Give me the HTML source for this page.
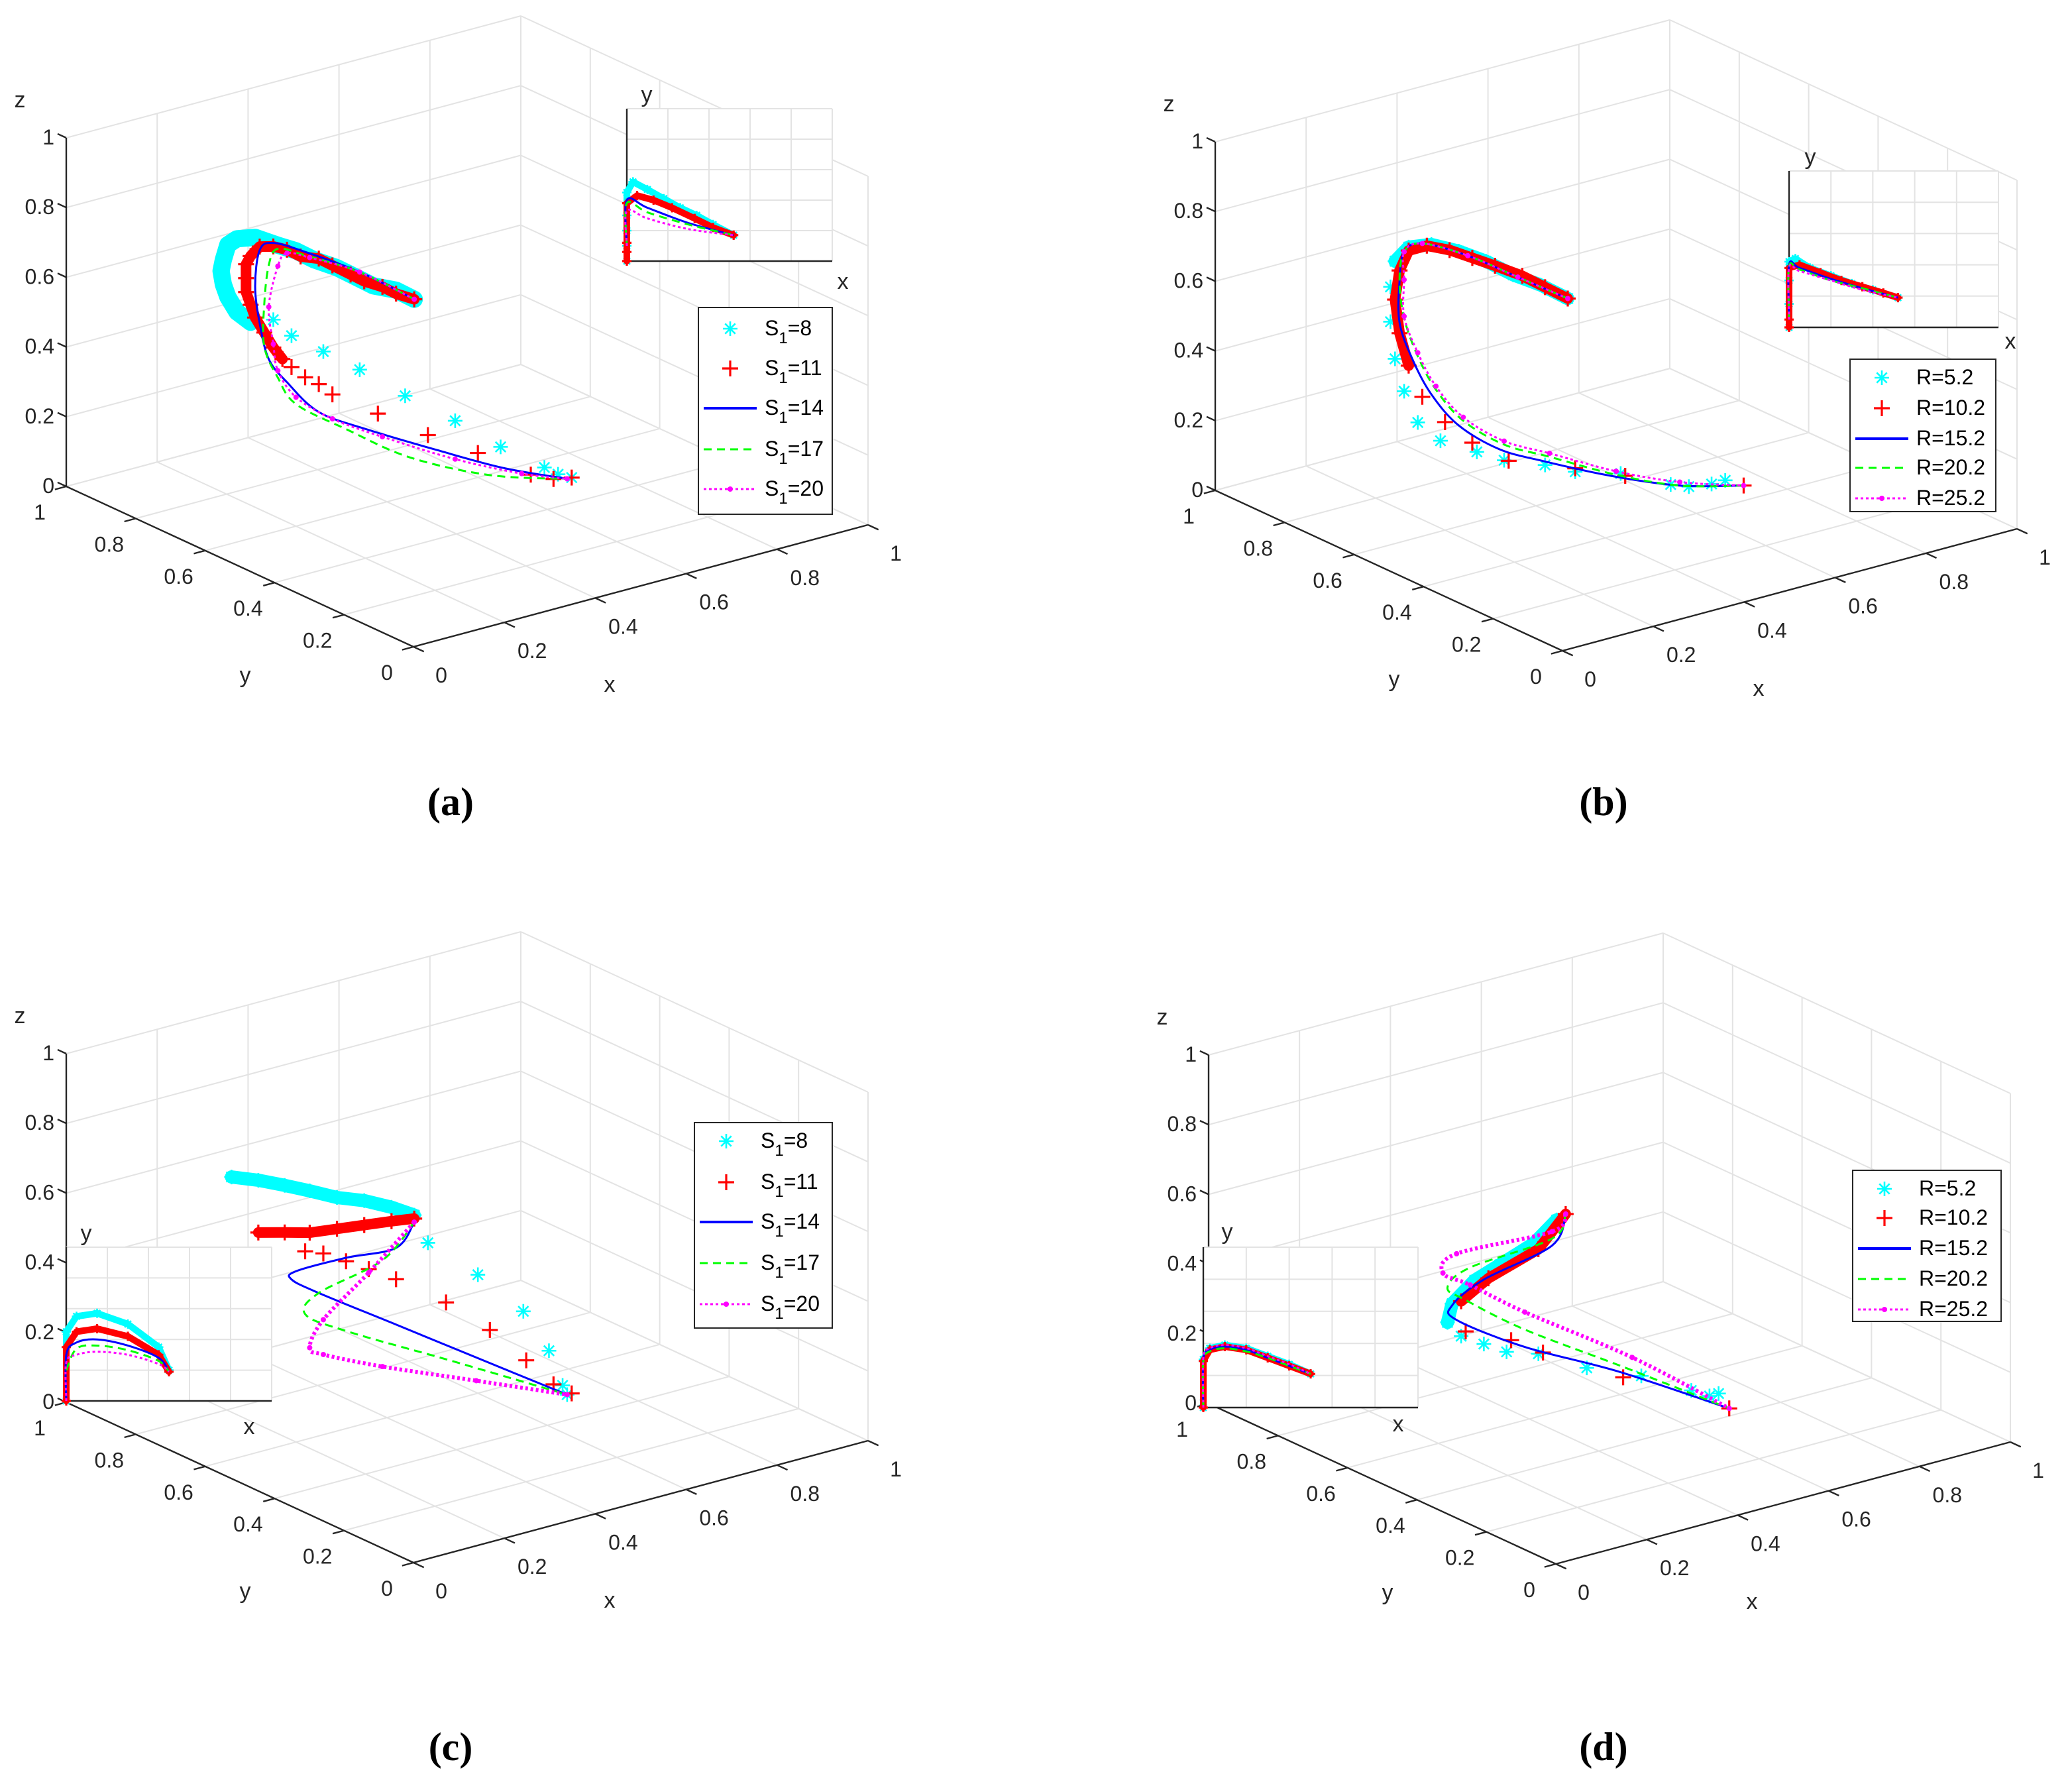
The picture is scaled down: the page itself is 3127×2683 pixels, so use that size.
<!DOCTYPE html>
<html><head><meta charset="utf-8"><title>Evolution trajectories</title>
<style>html,body{margin:0;padding:0;background:#fff}svg{display:block}</style></head>
<body>
<svg id="chart" xmlns="http://www.w3.org/2000/svg" width="3127" height="2683" viewBox="0 0 1563.5 1341.5" font-family="'Liberation Sans', sans-serif"></svg>
<script>
// ---------- data (x, y, z in [0,1]) ----------
const ticks=[0,0.2,0.4,0.6,0.8,1];
const tickLabels=['0','0.2','0.4','0.6','0.8','1'];
const legendA=['8','11','14','17','20'];
const legendB=['5.2','10.2','15.2','20.2','25.2'];
// panel a
const aCyanX=[.46,.42,.37,.33,.29,.24,.20,.16,.11,.07,.05,.04,.035,.04,.05,.07,.10,.15,.19,.26,.34,.44,.55,.65,.67,.70,.73];
const aCyanY=[.6,.6,.6,.6,.6,.6,.6,.6,.6,.6,.6,.6,.6,.6,.6,.6,.6,.6,.6,.6,.6,.6,.6,.6,.5,.5,.5];
const aCyanZ=[.56,.60,.63,.67,.71,.75,.79,.82,.86,.87,.86,.82,.79,.75,.71,.66,.62,.61,.55,.48,.40,.29,.18,.07,.05,.02,0];
const aRedX=[.46,.42,.39,.35,.32,.28,.25,.21,.18,.15,.12,.10,.09,.09,.09,.10,.11,.13,.15,.17,.19,.22,.25,.28,.38,.49,.60,.64,.69,.73];
const aRedY=[.6,.6,.6,.6,.6,.6,.6,.6,.6,.6,.6,.6,.6,.6,.6,.6,.6,.6,.6,.6,.6,.6,.6,.6,.6,.6,.6,.5,.5,.5];
const aRedZ=[.56,.59,.62,.65,.68,.72,.75,.77,.80,.82,.83,.81,.79,.75,.71,.67,.63,.58,.53,.49,.46,.42,.39,.35,.26,.16,.07,.04,.01,0];
const aBlueX=[.46,.34,.22,.15,.12,.11,.12,.14,.18,.25,.36,.51,.58,.72];
const aBlueY=[.6,.6,.6,.6,.6,.6,.6,.6,.6,.6,.6,.6,.5,.5];
const aBlueZ=[.56,.68,.78,.83,.82,.72,.61,.50,.42,.31,.22,.11,.08,0];
const aGreenX=[.46,.34,.22,.16,.14,.13,.13,.16,.20,.31,.45,.55,.72];
const aGreenY=[.6,.6,.6,.6,.6,.6,.6,.6,.6,.6,.6,.5,.5];
const aGreenZ=[.56,.68,.77,.81,.77,.66,.54,.44,.35,.24,.11,.07,0];
const aMagX=[.46,.34,.23,.18,.16,.14,.15,.16,.20,.28,.39,.55,.62,.72];
const aMagY=[.6,.6,.6,.6,.6,.6,.6,.6,.6,.6,.6,.6,.5,.5];
const aMagZ=[.56,.68,.76,.79,.76,.65,.54,.46,.37,.28,.19,.07,.05,0];
// panel b
const bCyanX=[.47,.41,.35,.29,.23,.17,.12,.09,.08,.08,.09,.11,.14,.19,.27,.33,.42,.41,.51,.62,.66,.71,.74];
const bCyanY=[.6,.6,.6,.6,.6,.6,.6,.6,.6,.6,.6,.6,.6,.6,.6,.6,.6,.5,.5,.5,.5,.5,.5];
const bCyanZ=[.57,.63,.68,.74,.79,.83,.84,.81,.74,.64,.53,.43,.33,.26,.20,.155,.11,.14,.10,.03,.01,0,0];
const bRedX=[.47,.42,.37,.31,.26,.21,.16,.12,.10,.09,.10,.12,.15,.20,.26,.34,.41,.52,.75];
const bRedY=[.6,.6,.6,.6,.6,.6,.6,.6,.6,.6,.6,.6,.6,.6,.6,.6,.5,.5,.46];
const bRedZ=[.57,.62,.67,.72,.76,.80,.83,.83,.78,.70,.60,.50,.40,.31,.23,.15,.15,.09,0];
const bBlueX=[.47,.36,.25,.15,.11,.10,.10,.13,.17,.23,.32,.42,.49,.64,.75];
const bBlueY=[.6,.6,.6,.6,.6,.6,.6,.6,.6,.6,.6,.6,.5,.5,.46];
const bBlueZ=[.57,.67,.77,.84,.83,.75,.63,.51,.40,.29,.19,.12,.10,.02,0];
const bGreenX=[.47,.36,.25,.15,.11,.10,.11,.14,.18,.24,.33,.43,.50,.64,.75];
const bGreenY=[.6,.6,.6,.6,.6,.6,.6,.6,.6,.6,.6,.6,.5,.5,.46];
const bGreenZ=[.57,.67,.77,.84,.83,.75,.64,.52,.41,.30,.20,.13,.10,.02,0];
const bMagX=[.47,.36,.25,.15,.11,.11,.11,.14,.18,.24,.33,.43,.50,.64,.75];
const bMagY=[.6,.6,.6,.6,.6,.6,.6,.6,.6,.6,.6,.6,.5,.5,.46];
const bMagZ=[.57,.67,.77,.84,.83,.75,.645,.53,.42,.31,.21,.14,.11,.03,0];
// panel c
const cCyanX=[.46,.41,.35,.29,.23,.175,.117,.058,.49,.60,.70,.68,.71,.72];
const cCyanY=[.6,.6,.6,.6,.6,.6,.6,.6,.6,.6,.6,.5,.5,.5];
const cCyanZ=[.56,.60,.64,.67,.71,.745,.78,.81,.47,.34,.20,.14,.03,0];
const cRedX=[.46,.41,.35,.29,.23,.175,.117,.22,.26,.31,.36,.42,.53,.55,.63,.69,.73];
const cRedY=[.6,.6,.6,.6,.6,.6,.6,.6,.6,.6,.6,.6,.6,.5,.5,.5,.5];
const cRedZ=[.55,.56,.57,.58,.59,.61,.63,.54,.52,.48,.44,.39,.285,.245,.13,.04,0];
const cBlueX=[.46,.42,.31,.20,.19,.25,.42,.55,.72];
const cBlueY=[.6,.6,.6,.6,.6,.6,.6,.5,.5];
const cBlueZ=[.54,.48,.49,.49,.47,.41,.26,.15,0];
const cGreenX=[.46,.39,.25,.22,.31,.46,.72];
const cGreenY=[.6,.6,.6,.6,.6,.5,.5];
const cGreenZ=[.54,.455,.41,.36,.28,.19,0];
const cMagX=[.46,.36,.26,.23,.26,.39,.52,.72];
const cMagY=[.6,.6,.6,.6,.6,.6,.5,.5];
const cMagZ=[.54,.43,.33,.26,.23,.15,.11,0];
// panel d
const dCyanX=[.46,.41,.335,.28,.23,.22,.25,.30,.35,.42,.45,.57,.68,.72,.74];
const dCyanY=[.6,.6,.6,.6,.6,.6,.6,.6,.6,.6,.5,.5,.5,.5,.5];
const dCyanZ=[.55,.50,.465,.44,.39,.34,.29,.25,.21,.18,.175,.11,.03,0,0];
const dRedX=[.48,.42,.31,.25,.26,.36,.43,.53,.71];
const dRedY=[.6,.6,.6,.6,.6,.6,.6,.5,.43];
const dRedZ=[.56,.48,.435,.39,.30,.24,.18,.12,0];
const dBlueX=[.48,.45,.30,.23,.24,.39,.52,.71];
const dBlueY=[.6,.6,.6,.6,.6,.6,.5,.43];
const dBlueZ=[.56,.48,.435,.385,.34,.21,.14,0];
const dGreenX=[.48,.45,.27,.22,.26,.39,.53,.71];
const dGreenY=[.6,.6,.6,.6,.6,.6,.5,.43];
const dGreenZ=[.56,.50,.48,.44,.39,.26,.15,0];
const dMagX=[.48,.45,.24,.21,.27,.39,.55,.71];
const dMagY=[.6,.6,.6,.6,.6,.6,.5,.43];
const dMagZ=[.56,.52,.53,.485,.43,.31,.17,0];
// insets (x, y in [0,1])
const iaCyanX=[0,0,0,0,0,.03,.1,.18,.26,.34,.42,.52];
const iaCyanY=[0,.1,.2,.3,.45,.52,.47,.41,.35,.3,.24,.17];
const iaRedX=[0,0,0,0,.05,.13,.22,.33,.42,.52];
const iaRedY=[0,.06,.12,.38,.43,.4,.35,.28,.22,.17];
const iaBlueX=[0,0,.1,.3,.52];
const iaBlueY=[.1,.4,.35,.25,.17];
const iaGreenX=[0,0,.1,.3,.52];
const iaGreenY=[.1,.38,.32,.24,.17];
const iaMagX=[0,0,.1,.3,.52];
const iaMagY=[.1,.33,.28,.21,.17];
const ibCyanX=[0,0,0,0,.03,.1,.2,.3,.4,.52];
const ibCyanY=[0,.15,.3,.42,.44,.38,.33,.28,.24,.19];
const ibRedX=[0,0,0,.05,.15,.25,.35,.45,.52];
const ibRedY=[0,.05,.38,.4,.35,.3,.26,.22,.19];
const ibBlueX=[0,0,.05,.2,.35,.52];
const ibBlueY=[.05,.4,.38,.31,.25,.19];
const ibGreenX=[0,0,.05,.2,.35,.52];
const ibGreenY=[.05,.39,.37,.30,.25,.19];
const ibMagX=[0,0,.05,.2,.35,.52];
const ibMagY=[.05,.38,.36,.30,.24,.19];
const icCyanX=[0,0,.05,.15,.3,.45,.5];
const icCyanY=[0,.45,.55,.57,.5,.35,.2];
const icRedX=[0,0,.05,.15,.3,.45,.5];
const icRedY=[0,.35,.45,.47,.42,.3,.19];
const icBlueX=[0,0,.05,.15,.3,.45,.5];
const icBlueY=[0,.3,.38,.4,.36,.28,.19];
const icGreenX=[0,.05,.15,.3,.45,.5];
const icGreenY=[.2,.34,.36,.33,.26,.19];
const icMagX=[0,0,.05,.15,.3,.45,.5];
const icMagY=[0,.25,.3,.32,.3,.24,.19];
const idCyanX=[0,0,.03,.1,.2,.3,.4,.5];
const idCyanY=[0,.3,.37,.39,.37,.32,.27,.21];
const idRedX=[0,0,.03,.1,.2,.3,.4,.5];
const idRedY=[0,.29,.36,.38,.36,.31,.26,.21];
const idBlueX=[0,0,.03,.1,.2,.3,.4,.5];
const idBlueY=[0,.3,.36,.38,.36,.31,.26,.21];
const idGreenX=[0,0,.03,.1,.2,.3,.4,.5];
const idGreenY=[0,.29,.35,.37,.35,.31,.26,.21];
const idMagX=[0,0,.03,.1,.2,.3,.4,.5];
const idMagY=[0,.31,.37,.39,.37,.32,.27,.21];

// ---------- rendering ----------
const NS='http://www.w3.org/2000/svg';
const svg=document.getElementById('chart');
function mk(tag,attrs,parent){const e=document.createElementNS(NS,tag);for(const k in attrs)e.setAttribute(k,attrs[k]);parent.appendChild(e);return e;}
const COL={cyan:'#00ffff',red:'#ff0000',blue:'#0000ff',green:'#00ff00',mag:'#ff00ff'};
function S(kind,X,Y,Z,band){return {kind:kind,x:X,y:Y,z:Z,band:band||0};}
const panels=[
 {id:'a',ox:0,oy:0,cap:'(a)',capx:340,capy:615,labels:legendA,sub:true,magW:1.5,bw:13,
  series:[S('cyan',aCyanX,aCyanY,aCyanZ,17),S('red',aRedX,aRedY,aRedZ,20),S('blue',aBlueX,aBlueY,aBlueZ),S('green',aGreenX,aGreenY,aGreenZ),S('mag',aMagX,aMagY,aMagZ)],
  inset:{x:473,y:82,w:155,h:115,ylx:488,yly:77,xlx:636,xly:218,d:[[iaCyanX,iaCyanY],[iaRedX,iaRedY],[iaBlueX,iaBlueY],[iaGreenX,iaGreenY],[iaMagX,iaMagY]]},
  leg:{x:527,y:232,w:101,h:156,ys:[248,278,308,339,369],sx:531,tx:577}},
 {id:'b',ox:867,oy:3,cap:'(b)',capx:1210,capy:615,labels:legendB,sub:false,magW:1.5,bw:10,
  series:[S('cyan',bCyanX,bCyanY,bCyanZ,8),S('red',bRedX,bRedY,bRedZ,12),S('blue',bBlueX,bBlueY,bBlueZ),S('green',bGreenX,bGreenY,bGreenZ),S('mag',bMagX,bMagY,bMagZ)],
  inset:{x:1350,y:129,w:158,h:118,ylx:1366,yly:124,xlx:1517,xly:263,d:[[ibCyanX,ibCyanY],[ibRedX,ibRedY],[ibBlueX,ibBlueY],[ibGreenX,ibGreenY],[ibMagX,ibMagY]]},
  leg:{x:1396,y:271,w:110,h:115,ys:[285,308,331,353,376],sx:1400,tx:1446}},
 {id:'c',ox:0,oy:691,cap:'(c)',capx:340,capy:1328,labels:legendA,sub:true,magW:3,bw:10,
  series:[S('cyan',cCyanX,cCyanY,cCyanZ,8),S('red',cRedX,cRedY,cRedZ,7),S('blue',cBlueX,cBlueY,cBlueZ),S('green',cGreenX,cGreenY,cGreenZ),S('mag',cMagX,cMagY,cMagZ)],
  inset:{x:50,y:941,w:155,h:116,ylx:65,yly:936,xlx:188,xly:1082,d:[[icCyanX,icCyanY],[icRedX,icRedY],[icBlueX,icBlueY],[icGreenX,icGreenY],[icMagX,icMagY]]},
  leg:{x:524,y:847,w:104,h:155,ys:[861,892,922,953,984],sx:528,tx:574}},
 {id:'d',ox:862,oy:692,cap:'(d)',capx:1210,capy:1328,labels:legendB,sub:false,magW:3,bw:10,
  series:[S('cyan',dCyanX,dCyanY,dCyanZ,6),S('red',dRedX,dRedY,dRedZ,4),S('blue',dBlueX,dBlueY,dBlueZ),S('green',dGreenX,dGreenY,dGreenZ),S('mag',dMagX,dMagY,dMagZ)],
  inset:{x:908,y:941,w:162,h:121,ylx:926,yly:935,xlx:1055,xly:1080,d:[[idCyanX,idCyanY],[idRedX,idRedY],[idBlueX,idBlueY],[idGreenX,idGreenY],[idMagX,idMagY]]},
  leg:{x:1398,y:883,w:112,h:114,ys:[897,919,942,965,988],sx:1402,tx:1448}}
];
function smooth(pts){
  if(pts.length<2)return '';
  let d='M'+pts[0][0].toFixed(2)+' '+pts[0][1].toFixed(2);
  for(let i=0;i<pts.length-1;i++){
    const p0=pts[Math.max(0,i-1)],p1=pts[i],p2=pts[i+1],p3=pts[Math.min(pts.length-1,i+2)];
    const c1=[p1[0]+(p2[0]-p0[0])/6,p1[1]+(p2[1]-p0[1])/6],c2=[p2[0]-(p3[0]-p1[0])/6,p2[1]-(p3[1]-p1[1])/6];
    d+=' C'+c1[0].toFixed(2)+' '+c1[1].toFixed(2)+' '+c2[0].toFixed(2)+' '+c2[1].toFixed(2)+' '+p2[0].toFixed(2)+' '+p2[1].toFixed(2);
  }
  return d;
}
function star(g,cx,cy,s){
  const e=mk('path',{d:`M${cx-s} ${cy}H${cx+s}M${cx} ${cy-s}V${cy+s}M${cx-s*.7} ${cy-s*.7}L${cx+s*.7} ${cy+s*.7}M${cx-s*.7} ${cy+s*.7}L${cx+s*.7} ${cy-s*.7}`,stroke:COL.cyan,'stroke-width':1.3,fill:'none'},g);
  
  
}
function plus(g,cx,cy,s){
  const e=mk('path',{d:`M${cx-s} ${cy}H${cx+s}M${cx} ${cy-s}V${cy+s}`,stroke:COL.red,'stroke-width':1.6,fill:'none'},g);
  
  
}
function drawSeries(g,kind,pts,band,magW,small,bw){
  if(kind==='cyan'||kind==='red'){
    if(band>1){
      const b=mk('polyline',{points:pts.slice(0,band).map(p=>p.join(',')).join(' '),fill:'none',stroke:COL[kind],'stroke-width':small?5:(kind==='cyan'?bw:8),'stroke-linecap':'round','stroke-linejoin':'round'},g);
      
      
    }
    pts.forEach(p=>{ if(kind==='cyan')star(g,p[0],p[1],small?3.5:5.5); else plus(g,p[0],p[1],small?3.5:6); });
  } else {
    const attrs={d:smooth(pts),fill:'none',stroke:COL[kind],'stroke-width':kind==='mag'?(small?1.5:magW):1.5};
    if(kind==='green')attrs['stroke-dasharray']='6 4';
    if(kind==='mag')attrs['stroke-dasharray']='2 2';
    const l=mk('path',attrs,g);
    
    
    if(kind==='mag'&&!small){pts.forEach(p=>{const c=mk('circle',{cx:p[0],cy:p[1],r:2,fill:COL.mag},g);
      
      });}
  }
}
panels.forEach(P=>{
  const g=mk('g',{},svg);
  
  
  const pr=(x,y,z)=>[P.ox+312+343*x-262*y, P.oy+488-92*x-121*y-263*z];
  const gray='#e3e3e3';
  const grid=mk('g',{stroke:gray,'stroke-width':1,fill:'none'},g);
  
  
  const L=(a,b)=>{mk('line',{x1:a[0],y1:a[1],x2:b[0],y2:b[1]},grid);};
  ticks.forEach(t=>{
    L(pr(t,0,0),pr(t,1,0)); L(pr(0,t,0),pr(1,t,0));
    L(pr(t,1,0),pr(t,1,1)); L(pr(0,1,t),pr(1,1,t));
    L(pr(1,t,0),pr(1,t,1)); L(pr(1,0,t),pr(1,1,t));
  });
  const ax=mk('g',{stroke:'#262626','stroke-width':1.2,fill:'none'},g);
  
  
  const A=(a,b)=>{mk('line',{x1:a[0],y1:a[1],x2:b[0],y2:b[1]},ax);};
  A(pr(0,1,0),pr(0,1,1)); A(pr(0,0,0),pr(0,1,0)); A(pr(0,0,0),pr(1,0,0));
  const tg=mk('g',{'font-size':16,fill:'#262626'},g);
  
  
  ticks.forEach((t,i)=>{
    A(pr(0,1,t),pr(0,1.025,t)); A(pr(0,t,0),pr(-0.025,t,0)); A(pr(t,0,0),pr(t,-0.03,0));
    let p=pr(0,1,t);
    const tz=mk('text',{x:p[0]-9,y:p[1]+5,'text-anchor':'end'},tg); tz.textContent=tickLabels[i];
    
    
    p=pr(0,t,0);
    const ty=mk('text',{x:p[0]-20,y:p[1]+25,'text-anchor':'middle'},tg); ty.textContent=tickLabels[i];
    
    
    p=pr(t,0,0);
    const tx=mk('text',{x:p[0]+21,y:p[1]+27,'text-anchor':'middle'},tg); tx.textContent=tickLabels[i];
    
    
  });
  const zl=mk('text',{x:P.ox+15,y:P.oy+81,'font-size':17,'text-anchor':'middle',fill:'#262626'},g); zl.textContent='z';
  
  
  const yl=mk('text',{x:P.ox+185,y:P.oy+515,'font-size':17,'text-anchor':'middle',fill:'#262626'},g); yl.textContent='y';
  
  
  const xl=mk('text',{x:P.ox+460,y:P.oy+522,'font-size':17,'text-anchor':'middle',fill:'#262626'},g); xl.textContent='x';
  
  
  const sg=mk('g',{},g);
  
  
  P.series.forEach(s=>{
    const pts=s.x.map((x,i)=>pr(x,s.y[i],s.z[i]));
    drawSeries(sg,s.kind,pts,s.band,P.magW,false,P.bw);
  });
  const I=P.inset;
  const ig=mk('g',{},g);
  
  
  const ib=mk('rect',{x:I.x,y:I.y,width:I.w,height:I.h,fill:'#fff'},ig);
  
  
  const ip=(x,y)=>[I.x+x*I.w, I.y+I.h-y*I.h];
  for(let k=1;k<=5;k++){
    let a=ip(k/5,0),b=ip(k/5,1);mk('line',{x1:a[0],y1:a[1],x2:b[0],y2:b[1],stroke:gray},ig);
    a=ip(0,k/5);b=ip(1,k/5);mk('line',{x1:a[0],y1:a[1],x2:b[0],y2:b[1],stroke:gray},ig);
  }
  mk('path',{d:`M${I.x} ${I.y}V${I.y+I.h}H${I.x+I.w}`,stroke:'#262626','stroke-width':1.2,fill:'none'},ig);
  const iyl=mk('text',{x:I.ylx,y:I.yly,'font-size':17,'text-anchor':'middle',fill:'#262626'},ig); iyl.textContent='y';
  
  
  const ixl=mk('text',{x:I.xlx,y:I.xly,'font-size':17,'text-anchor':'middle',fill:'#262626'},ig); ixl.textContent='x';
  
  
  const kinds=['cyan','red','blue','green','mag'];
  I.d.forEach((dd,k)=>{
    const pts=dd[0].map((x,i)=>ip(x,dd[1][i]));
    drawSeries(ig,kinds[k],pts,(k<2)?pts.length:0,1.5,true,5);
  });
  const Lg=P.leg;
  const lg=mk('g',{},g);
  
  
  mk('rect',{x:Lg.x,y:Lg.y,width:Lg.w,height:Lg.h,fill:'#fff',stroke:'#262626','stroke-width':1},lg);
  kinds.forEach((k,i)=>{
    const y=Lg.ys[i],x0=Lg.sx,x1=Lg.sx+40,mx=(x0+x1)/2;
    const eg=mk('g',{},lg);
    
    
    if(k==='cyan')star(eg,mx,y,5.5);
    else if(k==='red')plus(eg,mx,y,6);
    else{
      const a={x1:x0,y1:y,x2:x1,y2:y,stroke:COL[k],'stroke-width':k==='blue'?2:1.5};
      if(k==='green')a['stroke-dasharray']='6 4';
      if(k==='mag')a['stroke-dasharray']='2 2';
      mk('line',a,eg);
      if(k==='mag')mk('circle',{cx:mx,cy:y,r:2,fill:COL.mag},eg);
    }
    const t=mk('text',{x:Lg.tx,y:y+5,'font-size':16,fill:'#000'},eg);
    if(P.sub){
      t.appendChild(document.createTextNode('S'));
      const s1=mk('tspan',{dy:6,'font-size':12},t); s1.textContent='1';
      const s2=mk('tspan',{dy:-6},t); s2.textContent='='+P.labels[i];
    } else t.textContent='R='+P.labels[i];
  });
  const cap=mk('text',{x:P.capx,y:P.capy,'font-size':30,'font-weight':'bold','text-anchor':'middle','font-family':"'Liberation Serif', serif",fill:'#000'},g);
  cap.textContent=P.cap;
  
  
});
</script>
</body></html>
